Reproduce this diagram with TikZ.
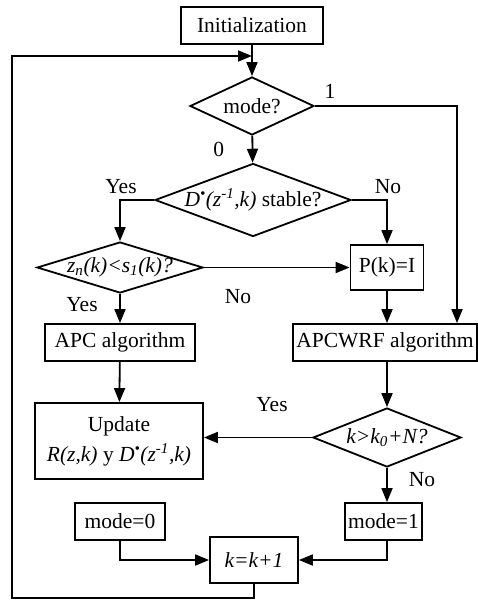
\documentclass[tikz,border=0pt]{standalone}
\usepackage{fontspec}
\setmainfont{Liberation Serif}
\usepackage{tikz}
\usetikzlibrary{arrows.meta,positioning,shapes.geometric}
\newcommand{\dtext}[1]{\makebox[0pt]{#1}}
\newcommand{\Dstar}{\textit{D\textsuperscript{\textbullet}(z\textsuperscript{-1},k)}}

\begin{document}
\begin{tikzpicture}[x=1pt, y=-1pt, line width=1.8pt,
	every node/.style={font=\fontsize{21.5}{24}\selectfont},
	block/.style={draw, rectangle, inner sep=0pt, align=center},
	decision/.style={draw, diamond, inner sep=0pt},
	arr/.style={-{Triangle[length=14pt,width=11pt]}}]
	\useasboundingbox (0,0) rectangle (478,601);
	% boxes and decisions
	\node[block, minimum width=142pt, minimum height=37pt] (init) at (252,25.5) {Initialization};
	\node[decision, minimum width=124pt, minimum height=58pt] (mode) at (252,106) {\dtext{mode?}};
	\node[decision, minimum width=196pt, minimum height=73pt] (stab) at (253,200) {\dtext{\Dstar{} stable?}};
	\node[decision, minimum width=166pt, minimum height=51pt] (zcmp) at (120,267.5) {\dtext{\textit{z\textsubscript{n}(k)<s\textsubscript{1}(k)?}}};
	\node[block, minimum width=73pt, minimum height=45pt] (pk) at (387,267.5) {P(k)=I};
	\node[block, minimum width=150pt, minimum height=37pt] (apc) at (120,342.5) {APC algorithm};
	\node[block, minimum width=184pt, minimum height=37pt] (apcw) at (385,342.5) {APCWRF algorithm};
	\node[block, minimum width=168pt, minimum height=76pt] (upd) at (119,441) {Update\\[6pt] \textit{R(z,k)} y \Dstar};
	\node[decision, minimum width=148pt, minimum height=59pt] (kcmp) at (387,437.5) {\dtext{\textit{k>k\textsubscript{0}+N?}}};
	\node[block, minimum width=90pt, minimum height=37pt] (m0) at (120,521.5) {mode=0};
	\node[block, minimum width=77pt, minimum height=37pt] (m1) at (383.5,521.5) {mode=1};
	\node[block, minimum width=88pt, minimum height=46pt] (kinc) at (254,560) {\textit{k=k+1}};
	\coordinate (r1) at (457,106);
	\coordinate (lb) at (12,598);
	\coordinate (lt) at (12,56);
	% connectors
	\draw[arr] (init) -- (mode);
	\draw[arr] (mode) -- node[left=24pt, pos=0.5] (l0) {0} (stab);
	\draw[arr] (mode.east) -- (r1) -- (r1 |- apcw.north);
	\node (l1) at (330,91) {1};
	\draw[arr] (stab.west) -| (zcmp.north);
	\node (lyes1) at (121,187) {Yes};
	\draw[arr] (stab.east) -| (pk.north);
	\node (lno1) at (388,187) {No};
	\draw[arr] (zcmp.east) -- (pk.west);
	\node (lno2) at (238,297) {No};
	\draw[arr] (zcmp) -- (apc);
	\node (lyes2) at (82,305) {Yes};
	\draw[arr] (pk.south) -- (pk.south |- apcw.north);
	\draw[arr] (apc) -- (upd);
	\draw[arr] (kcmp.north |- apcw.south) -- (kcmp.north);
	\draw[arr] (kcmp.west) -- (kcmp.west -| upd.east);
	\node (lyes3) at (272,405) {Yes};
	\draw[arr] (kcmp.south) -- (kcmp.south |- m1.north);
	\node (lno3) at (422,480) {No};
	\draw[arr] (m0.south) |- (kinc.west);
	\draw[arr] (kcmp.south |- m1.south) |- (kinc.east);
	\draw[arr] (kinc.south) |- (lb) -- (lt) -- (lt -| mode.north);
\end{tikzpicture}
\end{document}
